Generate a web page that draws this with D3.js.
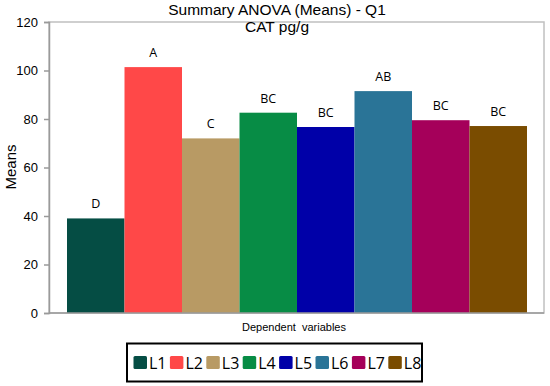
<!DOCTYPE html>
<html><head><meta charset="utf-8">
<script src="https://cdn.jsdelivr.net/npm/d3@7"></script>
<style>body{margin:0;background:#fff}</style>
</head><body>
<svg id="c" width="550" height="386"></svg>
<script>
const categories = ["L1","L2","L3","L4","L5","L6","L7","L8"];
const means = [39.0, 101.4, 72.0, 82.6, 76.7, 91.5, 79.5, 77.1];
const groups = ["D","A","C","BC","BC","AB","BC","BC"];
const colors = ["#054d44","#ff4848","#b89a64","#078c45","#0000a8","#2a7497","#a5005a","#7a4c00"];
const yTicks = [0,20,40,60,80,100,120];

const svg = d3.select("#c");
const L = 49, R = 544, T = 22, B = 313;
const y = d3.scaleLinear().domain([0,120]).range([B,T]);
const x = d3.scaleBand().domain(categories).range([67,527]).paddingInner(0).paddingOuter(0);

svg.append("rect").attr("x",L).attr("y",T).attr("width",R-L).attr("height",B-T)
  .attr("fill","none").attr("stroke","#c0c0c0").attr("stroke-width",1.5);

svg.selectAll("rect.bar").data(categories).join("rect").attr("class","bar")
  .attr("x",d=>x(d)).attr("width",x.bandwidth())
  .attr("y",(d,i)=>y(means[i])).attr("height",(d,i)=>B-y(means[i]))
  .attr("fill",(d,i)=>colors[i]);

svg.selectAll("text.grp").data(categories).join("text").attr("class","grp")
  .attr("x",d=>x(d)+x.bandwidth()/2).attr("y",(d,i)=>y(means[i])-10)
  .attr("text-anchor","middle").attr("font-family","Open Sans, sans-serif").attr("font-size",12.5)
  .attr("fill","#000").text((d,i)=>groups[i]);

const yAxis = d3.axisLeft(y).tickValues(yTicks).tickSize(5).tickPadding(6);
const ga = svg.append("g").attr("transform",`translate(${L},0)`).call(yAxis);
ga.select(".domain").attr("stroke","#9a9a9a").attr("stroke-width",1.5);
ga.selectAll(".tick line").attr("stroke","#9a9a9a").attr("stroke-width",1.5);
ga.selectAll(".tick text").attr("font-family","Liberation Sans, Arial, sans-serif").attr("font-size",13).attr("fill","#000");

svg.append("line").attr("x1",L).attr("x2",R).attr("y1",B).attr("y2",B).attr("stroke","#9a9a9a").attr("stroke-width",1.5);

svg.append("text").attr("x",277).attr("y",15).attr("text-anchor","middle")
  .attr("font-family","Liberation Sans, Arial, sans-serif").attr("font-size",15.5).text("Summary ANOVA (Means) - Q1");
svg.append("text").attr("x",277).attr("y",32).attr("text-anchor","middle")
  .attr("font-family","Liberation Sans, Arial, sans-serif").attr("font-size",15.5).text("CAT pg/g");
svg.append("text").attr("transform","translate(16,167) rotate(-90)").attr("text-anchor","middle")
  .attr("font-family","Liberation Sans, Arial, sans-serif").attr("font-size",15).text("Means");
svg.append("text").attr("x",294).attr("y",331).attr("text-anchor","middle")
  .attr("font-family","Liberation Sans, Arial, sans-serif").attr("font-size",11).attr("xml:space","preserve").text("Dependent  variables");

svg.append("rect").attr("x",127).attr("y",343.5).attr("width",295).attr("height",38)
  .attr("fill","#fff").attr("stroke","#000").attr("stroke-width",2);
const lg = svg.selectAll("g.lg").data(categories).join("g").attr("class","lg")
  .attr("transform",(d,i)=>`translate(${133.5+i*36.4},356)`);
lg.append("rect").attr("width",13.5).attr("height",13).attr("rx",1.5).attr("fill",(d,i)=>colors[i]);
lg.append("text").attr("x",15.5).attr("y",12.5).attr("font-family","Open Sans, sans-serif")
  .attr("font-size",16).attr("fill","#000").text(d=>d);
</script>
</body></html>
